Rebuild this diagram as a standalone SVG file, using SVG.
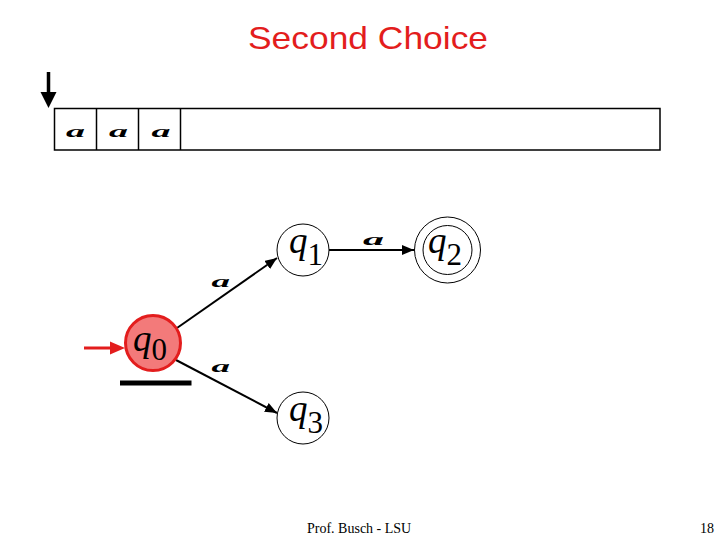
<svg xmlns="http://www.w3.org/2000/svg" width="720" height="540" viewBox="0 0 720 540">
<defs>
<marker id="ah" markerWidth="12" markerHeight="10" refX="12" refY="5" orient="auto" markerUnits="userSpaceOnUse">
<path d="M0,0 L12,5 L0,10 Z" fill="#000"/>
</marker>
</defs>
<style>
.st{fill:#fff;stroke:#000;stroke-width:1}
.q{font-family:"Liberation Serif",serif;font-style:italic;font-size:37px;fill:#000}
.sub{font-family:"Liberation Serif",serif;font-style:normal;font-size:31px}
.a{font-family:"Liberation Serif",serif;font-style:italic;font-weight:bold;font-size:17px;fill:#000}
.edge{stroke:#000;stroke-width:2;fill:none}
</style>
<rect width="720" height="540" fill="#fff"/>
<text x="368" y="49" text-anchor="middle" font-family="'Comic Sans MS','Liberation Sans',sans-serif" font-size="32" fill="#e31d1d" textLength="240" lengthAdjust="spacingAndGlyphs">Second Choice</text>
<g id="tape">
<rect x="54.5" y="108.5" width="605.5" height="41.5" fill="#fff" stroke="#000" stroke-width="1.5"/>
<line x1="96.5" y1="108.5" x2="96.5" y2="150" stroke="#000" stroke-width="1.5"/>
<line x1="138.5" y1="108.5" x2="138.5" y2="150" stroke="#000" stroke-width="1.5"/>
<line x1="180.5" y1="108.5" x2="180.5" y2="150" stroke="#000" stroke-width="1.5"/>
<text class="a" x="66" y="137" textLength="19" lengthAdjust="spacingAndGlyphs">a</text>
<text class="a" x="109" y="137" textLength="19" lengthAdjust="spacingAndGlyphs">a</text>
<text class="a" x="151.5" y="137" textLength="19" lengthAdjust="spacingAndGlyphs">a</text>
</g>
<g id="head">
<line x1="48.5" y1="72" x2="48.5" y2="94" stroke="#000" stroke-width="3.5"/>
<path d="M40.5,92 L56.5,92 L48.5,108 Z" fill="#000"/>
</g>
<g id="connectors">
<line class="edge" x1="177" y1="328" x2="277" y2="258" marker-end="url(#ah)"/>
<line class="edge" x1="176" y1="360" x2="277" y2="413" marker-end="url(#ah)"/>
<line class="edge" x1="329" y1="250" x2="414" y2="250" marker-end="url(#ah)"/>
<line x1="84" y1="348" x2="112" y2="348" stroke="#e31d1d" stroke-width="3"/>
<path d="M110,341.5 L125,348 L110,354.5 Z" fill="#e31d1d"/>
<text class="a" x="211.5" y="287" textLength="18.5" lengthAdjust="spacingAndGlyphs">a</text>
<text class="a" x="211.5" y="372" textLength="18.5" lengthAdjust="spacingAndGlyphs">a</text>
<text class="a" x="363" y="245" textLength="21" lengthAdjust="spacingAndGlyphs">a</text>
</g>
<g id="q0">
<circle cx="153" cy="343" r="27.5" fill="#f37a7a" stroke="#e31d1d" stroke-width="3"/>
<text class="q" x="133" y="351">q<tspan class="sub" dy="9">0</tspan></text>
</g>
<rect id="bar" x="120" y="380.5" width="71.5" height="5" fill="#000"/>
<g id="q1">
<circle class="st" cx="303" cy="250" r="26"/>
<text class="q" x="289" y="253">q<tspan class="sub" dy="12">1</tspan></text>
</g>
<g id="q2">
<circle class="st" cx="447.5" cy="250" r="33"/>
<circle class="st" cx="447.5" cy="250" r="24.5"/>
<text class="q" x="428" y="253">q<tspan class="sub" dy="12">2</tspan></text>
</g>
<g id="q3">
<circle class="st" cx="303" cy="418" r="26"/>
<text class="q" x="289" y="421">q<tspan class="sub" dy="12">3</tspan></text>
</g>
<text x="307" y="533" font-family="'Liberation Serif',serif" font-size="14" fill="#000">Prof. Busch - LSU</text>
<text x="714" y="533" text-anchor="end" font-family="'Liberation Serif',serif" font-size="14" fill="#000">18</text>
</svg>
